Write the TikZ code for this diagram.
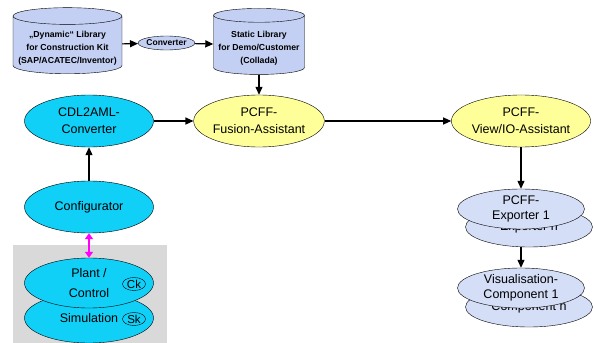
\documentclass[tikz,border=0pt]{standalone}
\usepackage{fontspec}
\setmainfont{Liberation Sans}
\usetikzlibrary{shapes.geometric,arrows.meta}
\definecolor{cylfill}{RGB}{195,208,243}
\definecolor{cyanfill}{RGB}{16,208,248}
\definecolor{yelfill}{RGB}{255,255,153}
\definecolor{expfill}{RGB}{212,222,246}
\definecolor{boxgray}{RGB}{217,217,217}
\definecolor{linkpink}{RGB}{255,0,255}
\begin{document}
\begin{tikzpicture}[x=1pt,y=-1pt]
    \tikzset{
    cyl/.style={cylinder,shape border rotate=90,aspect=0.17,draw,fill=cylfill,
        minimum width=109pt,minimum height=66pt,inner sep=0pt,align=center,
        font=\bfseries\fontsize{8.7}{13}\selectfont},
    conv/.style={ellipse,draw,fill=cylfill,minimum width=43pt,minimum height=14pt,
        inner sep=0pt,font=\bfseries\fontsize{8.5}{10}\selectfont},
    cy/.style={ellipse,draw,thin,fill=cyanfill,minimum width=129pt,minimum height=52pt,
        inner sep=0pt,align=center,font=\fontsize{12.5}{17}\selectfont},
    ye/.style={cy,fill=yelfill},
    ex/.style={ellipse,draw,thin,fill=expfill,minimum width=127pt,minimum height=40pt,
        inner sep=0pt,align=center,font=\fontsize{12.5}{15}\selectfont},
    tag/.style={ellipse,draw,thin,minimum width=23pt,minimum height=13pt,inner sep=-3pt,
        font=\fontsize{11.5}{11.5}\selectfont},
    arr/.style={-{Triangle[length=8pt,width=7pt]},line width=1.2pt},
    pink/.style={{Triangle[length=6pt,width=8pt]}-{Triangle[length=6pt,width=8pt]},
        line width=2pt,linkpink},
    }
    \useasboundingbox (0,0) rectangle (595,343);
    \fill[boxgray] (13,245) rectangle (167,343);

    \node[cyl] (dyn) at (67.5,45) {\\,,Dynamic`` Library\\for Construction Kit\\(SAP/ACATEC/Inventor)};
    \node[conv] (conv) at (166.5,43) {Converter};
    \node[cyl,minimum width=91pt] (stat) at (259,45) {\\Static Library\\for Demo/Customer\\(Collada)};

    \node[cy] (cdl) at (89,121) {CDL2AML-\\Converter};
    \node[ye] (fus) at (259,121) {PCFF-\\Fusion-Assistant};
    \node[ye] (view) at (521,121) {PCFF-\\View/IO-Assistant};
    \node[cy] (cfg) at (89,207) {Configurator};

    \node[cy,minimum height=50pt] (sim) at (89,318) {Simulation};
    \node[cy,minimum height=50pt,font=\fontsize{12.5}{20}\selectfont] (plant) at (89,283) {Plant /\\Control};
    \node[tag] (ck) at (134,284) {Ck};
    \node[tag] (sk) at (134,319) {Sk};

    \node[ex] (expn) at (529,227) {Exporter n};
    \node[ex] (exp1) at (521,209) {PCFF-\\Exporter 1};
    \node[ex] (visn) at (529,307) {Component n};
    \node[ex] (vis1) at (521,288) {Visualisation-\\Component 1};

    \draw[arr] (dyn) -- (conv);
    \draw[arr] (conv) -- (stat);
    \draw[arr] (stat.bottom) -- (fus.north);
    \draw[arr] (cdl) -- (fus);
    \draw[arr] (fus) -- (view);
    \draw[arr] (cfg) -- (cdl);
    \draw[pink] (cfg) -- (plant);
    \draw[arr] (view) -- (exp1);
    \draw[arr] (vis1.north |- expn.south) -- (vis1.north);
\end{tikzpicture}
\end{document}
